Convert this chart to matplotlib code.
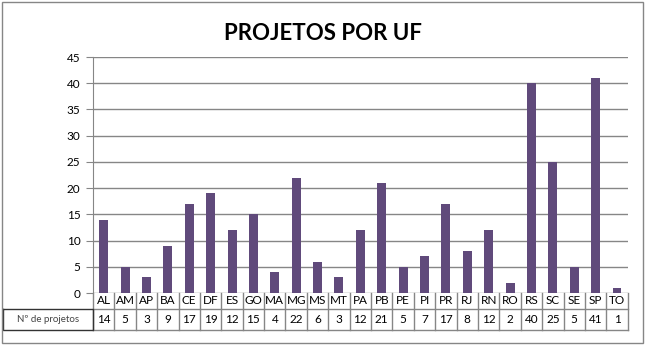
import numpy as np
import matplotlib.pyplot as plt
from matplotlib.patches import Rectangle

# projetos por unidade federativa
ufs = ['AL', 'AM', 'AP', 'BA', 'CE', 'DF', 'ES', 'GO', 'MA', 'MG', 'MS', 'MT', 'PA',
       'PB', 'PE', 'PI', 'PR', 'RJ', 'RN', 'RO', 'RS', 'SC', 'SE', 'SP', 'TO']
projetos = [14, 5, 3, 9, 17, 19, 12, 15, 4, 22, 6, 3, 12,
            21, 5, 7, 17, 8, 12, 2, 40, 25, 5, 41, 1]
serie = 'Nº de projetos'

bar_color = '#604A7B'
grid_color = '#868686'
font = ['Lato', 'DejaVu Sans']

fig = plt.figure(figsize=(6.46, 3.48), dpi=100)
fig.patches.append(Rectangle((1.5 / 646, 5 / 348), 641 / 646, 341.5 / 348,
                             transform=fig.transFigure, fill=False,
                             edgecolor=grid_color, linewidth=1.0))

ax = fig.add_axes([93 / 646, 55 / 348, 534.7 / 646, 236 / 348])
x = np.arange(len(ufs))
ax.bar(x, projetos, width=0.42, color=bar_color, zorder=3)

ax.set_xlim(-0.5, len(ufs) - 0.5)
ax.set_ylim(0, 45)
ax.set_yticks(range(0, 46, 5))
ax.set_xticks([])
ax.yaxis.grid(True, color=grid_color, linewidth=1.0, zorder=0)
for s in ['top', 'right', 'bottom']:
    ax.spines[s].set_visible(False)
ax.spines['left'].set_color(grid_color)
ax.tick_params(axis='y', length=5, color=grid_color, labelsize=8.5, pad=4)
for lbl in ax.get_yticklabels():
    lbl.set_family(font)

fig.text(0.5, 1 - 34 / 348, 'PROJETOS POR UF', ha='center', va='center',
         fontsize=16, fontweight='bold', family=font)

# tabela de dados abaixo do eixo
tr = ax.get_xaxis_transform()
h1 = 16 / 236
h2 = 21 / 236
left_box = -90 / 534.7
lw = 1.0
for xb in np.arange(-0.5, len(ufs), 1.0):
    ax.plot([xb, xb], [0, -(h1 + h2)], transform=tr, color=grid_color,
            linewidth=lw, clip_on=False)
ax.plot([-0.5, len(ufs) - 0.5], [-h1, -h1], transform=tr, color=grid_color,
        linewidth=lw, clip_on=False)
ax.plot([-0.5, len(ufs) - 0.5], [-(h1 + h2), -(h1 + h2)], transform=tr,
        color=grid_color, linewidth=lw, clip_on=False)
# caixa do rótulo da série
ax.plot([left_box, 0, 0, left_box, left_box],
        [-h1, -h1, -(h1 + h2), -(h1 + h2), -h1],
        transform=ax.transAxes, color='#333333', linewidth=lw, clip_on=False)
ax.text(left_box / 2, -h1 - h2 / 2, serie, transform=ax.transAxes,
        ha='center', va='center', fontsize=7, family=font, color='#444444')

for xi, uf, v in zip(x, ufs, projetos):
    ax.text(xi, -h1 / 2, uf, transform=tr, ha='center', va='center',
            fontsize=8.5, family=font)
    ax.text(xi, -h1 - h2 / 2, str(v), transform=tr, ha='center', va='center',
            fontsize=8.5, family=font)

fig.savefig('out.png', dpi=100)
